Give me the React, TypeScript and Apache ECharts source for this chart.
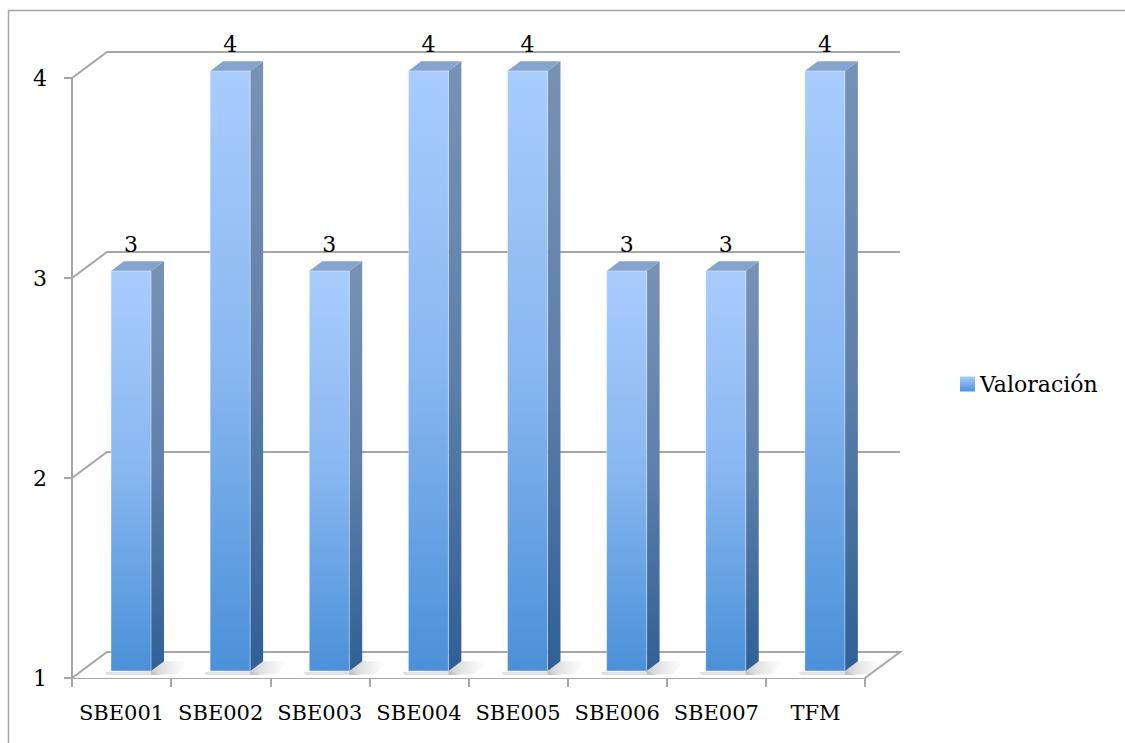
import React, { useEffect, useRef } from "react";
import * as echarts from "echarts";

const categories = ["SBE001", "SBE002", "SBE003", "SBE004", "SBE005", "SBE006", "SBE007", "TFM"];
const values = [3, 4, 3, 4, 4, 3, 3, 4];
const yTicks = [1, 2, 3, 4];
const seriesName = "Valoración";

const FONT = "DejaVu Serif";
const GRAY = "#a6a6a6";
const DX = 35;
const DY = -26;

export default function App() {
  const ref = useRef<HTMLDivElement>(null);

  useEffect(() => {
    document.body.style.margin = "0";
    const chart = echarts.init(ref.current!, null, { renderer: "svg" });

    const frontGrad = () =>
      new echarts.graphic.LinearGradient(0, 0, 0, 1, [
        { offset: 0, color: "#a9ccfd" },
        { offset: 0.5, color: "#88b7f0" },
        { offset: 1, color: "#4b90d8" },
      ]);
    const sideGrad = () =>
      new echarts.graphic.LinearGradient(0, 0, 0, 1, [
        { offset: 0, color: "#7892b6" },
        { offset: 0.5, color: "#5f80ab" },
        { offset: 1, color: "#2f6096" },
      ]);
    const shadowGrad = () =>
      new echarts.graphic.LinearGradient(0, 0, 1, 0, [
        { offset: 0, color: "rgba(140,140,140,0.45)" },
        { offset: 1, color: "rgba(200,200,200,0)" },
      ]);

    const option: any = {
      animation: false,
      backgroundColor: "#ffffff",
      textStyle: { fontFamily: FONT, fontSize: 22 },
      graphic: [
        {
          type: "rect",
          shape: { x: 8.5, y: 10.5, width: 1300, height: 900 },
          style: { fill: "none", stroke: GRAY, lineWidth: 1.5 },
          silent: true,
          z: 0,
        },
      ],
      legend: {
        data: [{ name: seriesName, icon: "rect" }],
        left: 955,
        top: 368,
        itemWidth: 15,
        itemHeight: 15,
        textStyle: { fontSize: 22, fontFamily: FONT, color: "#000" },
      },
      grid: { left: 72, top: 78, width: 793, height: 600, containLabel: false },
      xAxis: {
        type: "category",
        data: categories,
        boundaryGap: true,
        axisLine: { show: true, lineStyle: { color: GRAY, width: 2 } },
        axisTick: { show: true, length: 9, interval: 0, lineStyle: { color: GRAY, width: 2 } },
        axisLabel: { interval: 0, fontSize: 21, fontFamily: FONT, color: "#000", margin: 24 },
        splitLine: { show: false },
      },
      yAxis: {
        type: "value",
        min: 1,
        max: 4,
        interval: 1,
        axisLine: { show: true, lineStyle: { color: GRAY, width: 2 } },
        axisTick: { show: true, length: 8, lineStyle: { color: GRAY, width: 2 } },
        axisLabel: { fontSize: 22, fontFamily: FONT, color: "#000", margin: 25 },
        splitLine: { show: false },
      },
      series: [
        {
          type: "custom",
          name: "grid3d",
          silent: true,
          z: 1,
          clip: false,
          data: yTicks.map((v) => [0, v]),
          renderItem: (params: any, api: any) => {
            const v = api.value(1);
            const y = api.coord([0, v])[1];
            const x0 = params.coordSys.x;
            const x1 = x0 + params.coordSys.width;
            const style = { stroke: GRAY, lineWidth: 2, fill: null };
            if (v === yTicks[0]) {
              return {
                type: "group",
                children: [
                  {
                    type: "polygon",
                    shape: { points: [[x0, y], [x0 + DX, y + DY], [x1 + DX, y + DY], [x1, y]] },
                    style: { fill: "#ffffff", stroke: null },
                  },
                  {
                    type: "polyline",
                    shape: { points: [[x0, y], [x0 + DX, y + DY], [x1 + DX, y + DY], [x1, y]] },
                    style,
                  },
                ],
              };
            }
            return {
              type: "polyline",
              shape: { points: [[x0, y], [x0 + DX, y + DY], [x1 + DX, y + DY]] },
              style,
            };
          },
        },
        {
          type: "custom",
          name: seriesName,
          z: 2,
          clip: false,
          itemStyle: {
            color: new echarts.graphic.LinearGradient(0, 0, 0, 1, [
              { offset: 0, color: "#a9ccfd" },
              { offset: 1, color: "#4b90d8" },
            ]),
          },
          data: values.map((v, i) => [i, v]),
          renderItem: (params: any, api: any) => {
            const i = api.value(0);
            const v = api.value(1);
            const top = api.coord([i, v]);
            const base = api.coord([i, yTicks[0]]);
            const band = api.size([1, 0])[0];
            const w = band * 0.404;
            const f0 = 0.27;
            const f1 = 0.64;
            const fx = DX * f0;
            const fy = DY * f0;
            const sdx = DX * (f1 - f0);
            const sdy = DY * (f1 - f0);
            const xl = top[0] - w / 2 + fx;
            const xr = xl + w;
            const yT = top[1] + fy;
            const yB = base[1] + fy;
            return {
              type: "group",
              children: [
                {
                  type: "polygon",
                  shape: {
                    points: [
                      [xr, yB - 2],
                      [xr + sdx, yB + sdy],
                      [xr + sdx + 26, yB + sdy],
                      [xr + 26, yB + 3],
                      [xr, yB + 4],
                    ],
                  },
                  style: { fill: shadowGrad() },
                },
                {
                  type: "polygon",
                  shape: {
                    points: [
                      [xl - 6, yB + 1],
                      [xr, yB],
                      [xr + 10, yB + 4],
                      [xl - 4, yB + 4],
                    ],
                  },
                  style: { fill: "rgba(170,170,170,0.35)" },
                },
                {
                  type: "polygon",
                  shape: { points: [[xr, yT], [xr + sdx, yT + sdy], [xr + sdx, yB + sdy], [xr, yB]] },
                  style: { fill: sideGrad() },
                },
                {
                  type: "polygon",
                  shape: { points: [[xl, yT], [xl + sdx, yT + sdy], [xr + sdx, yT + sdy], [xr, yT]] },
                  style: { fill: "#84a4cf" },
                },
                {
                  type: "rect",
                  shape: { x: xl, y: yT, width: w, height: yB - yT },
                  style: { fill: frontGrad(), stroke: "rgba(255,255,255,0.5)", lineWidth: 0.8 },
                },
                {
                  type: "text",
                  style: {
                    text: String(v),
                    x: (xl + xr) / 2,
                    y: yT + sdy - 6,
                    align: "center",
                    verticalAlign: "bottom",
                    fontSize: 22,
                    fontFamily: FONT,
                    fill: "#000",
                  },
                },
              ],
            };
          },
        },
      ],
    };

    chart.setOption(option);
    return () => chart.dispose();
  }, []);

  return <div ref={ref} style={{ width: 1125, height: 743 }} />;
}
